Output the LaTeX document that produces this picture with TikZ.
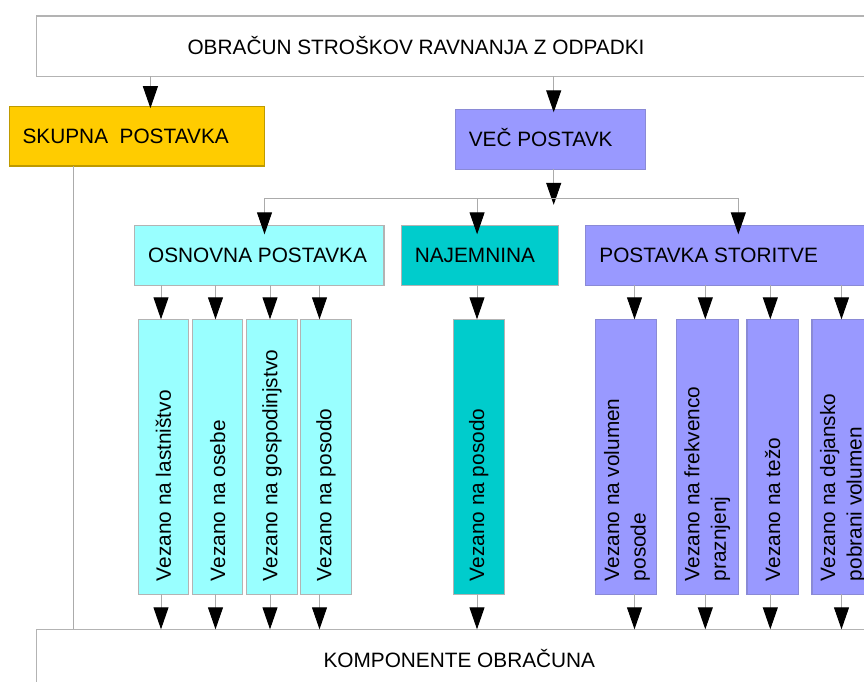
\documentclass[tikz,border=0pt]{standalone}
\usepackage{fontspec}
\setmainfont{Liberation Sans}
\usetikzlibrary{arrows.meta,calc}

\definecolor{goldfill}{HTML}{FFCC00}
\definecolor{golddraw}{HTML}{BE9A00}
\definecolor{violetfill}{HTML}{9999FF}
\definecolor{violetdraw}{HTML}{8A8AD6}
\definecolor{aquafill}{HTML}{99FFFF}
\definecolor{tealfill}{HTML}{00CCCC}
\definecolor{framegray}{HTML}{B3B3B3}
\definecolor{linkgray}{HTML}{ABABAB}

\begin{document}
\begin{tikzpicture}[x=1pt,y=-1pt,
  font=\fontsize{20.8}{26.5}\selectfont,
  box/.style={draw=framegray, line width=1.1pt, inner sep=0pt, outer sep=0pt, anchor=north west},
  hlabel/.style={anchor=base west, inner sep=0pt},
  vlabel/.style={rotate=90, anchor=west, inner sep=0pt, align=left},
  link/.style={draw=linkgray, line width=1pt},
  arr/.style={link, -{Triangle[width=15pt,length=22pt,black]}}]

\useasboundingbox (0,0) rectangle (864,682);
\clip (0,0) rectangle (864,682);
\fill[white] (0,0) rectangle (864,682);

% top and bottom frames
\node[box, minimum width=900pt, minimum height=60.3pt] (top) at (36.4,16) {};
\node[anchor=base, inner sep=0pt] (title) at (416,55) {OBRAČUN STROŠKOV RAVNANJA Z ODPADKI};
\node[box, minimum width=900pt, minimum height=100pt] (bot) at (36.4,629.3) {};
\node[anchor=base, inner sep=0pt] (botlbl) at (459.3,667.3) {KOMPONENTE OBRAČUNA};

% first level
\node[box, fill=goldfill, draw=golddraw, minimum width=255.1pt, minimum height=59.3pt] (sk) at (9.4,106.7) {};
\node[hlabel] (sklbl) at ($(sk.west)+(13,7.4)$) {SKUPNA\ \ POSTAVKA};
\node[box, fill=violetfill, draw=violetdraw, minimum width=189.6pt, minimum height=60pt] (vec) at (455.6,109.3) {};
\node[hlabel] (veclbl) at ($(vec.west)+(13,7.4)$) {VEČ POSTAVK};

% second level
\node[box, fill=aquafill, minimum width=249.6pt, minimum height=60pt] (osn) at (134.4,225.3) {};
\node[hlabel] (osnlbl) at ($(osn.west)+(13.5,7.4)$) {OSNOVNA POSTAVKA};
\node[box, fill=tealfill, minimum width=157pt, minimum height=60pt] (naj) at (401.1,225.3) {};
\node[hlabel] (najlbl) at ($(naj.west)+(13.5,7.4)$) {NAJEMNINA};
\node[box, fill=violetfill, draw=violetdraw, minimum width=300pt, minimum height=60pt] (ps) at (585.7,225.3) {};
\node[hlabel] (pslbl) at ($(ps.west)+(13.5,7.4)$) {POSTAVKA STORITVE};

% third level columns
\node[box, fill=aquafill, minimum width=50pt, minimum height=275pt] (c1) at (138.3,319.3) {};
\node[box, fill=aquafill, minimum width=50pt, minimum height=275pt] (c2) at (192.7,319.3) {};
\node[box, fill=aquafill, minimum width=50.6pt, minimum height=275pt] (c3) at (246.7,319.3) {};
\node[box, fill=aquafill, minimum width=50.6pt, minimum height=275pt] (c4) at (300.7,319.3) {};
\node[box, fill=tealfill, minimum width=51pt, minimum height=275pt] (n1) at (453.3,319.3) {};
\node[box, fill=violetfill, draw=violetdraw, minimum width=61.4pt, minimum height=275pt] (p1) at (595.3,319.3) {};
\node[box, fill=violetfill, draw=violetdraw, minimum width=62pt, minimum height=275pt] (p2) at (676.3,319.3) {};
\node[box, fill=violetfill, draw=violetdraw, minimum width=51.3pt, minimum height=275pt] (p3) at (747,319.3) {};
\node[box, fill=violetfill, draw=violetdraw, minimum width=62pt, minimum height=275pt] (p4) at (812,319.3) {};

\node[vlabel] (c1lbl) at ($(c1.south)+(0,-13)$) {Vezano na lastništvo};
\node[vlabel] (c2lbl) at ($(c2.south)+(0,-13)$) {Vezano na osebe};
\node[vlabel] (c3lbl) at ($(c3.south)+(0,-13)$) {Vezano na gospodinjstvo};
\node[vlabel] (c4lbl) at ($(c4.south)+(0,-13)$) {Vezano na posodo};
\node[vlabel] (n1lbl) at ($(n1.south)+(0,-13)$) {Vezano na posodo};
\node[vlabel] (p1lbl) at ($(p1.south)+(1,-13)$) {Vezano na volumen\\posode};
\node[vlabel] (p2lbl) at ($(p2.south)+(0,-13)$) {Vezano na frekvenco\\praznjenj};
\node[vlabel] (p3lbl) at ($(p3.south)+(0,-13)$) {Vezano na težo};
\node[vlabel] (p4lbl) at ($(p4.south)+(0,-13)$) {Vezano na dejansko\\pobrani volumen};

% connector columns
\coordinate (xsk) at (73.8,0);
\coordinate (xa) at (150.4,0);
\coordinate (xb) at (553.7,0);
\coordinate (xo) at (264.5,0);
\coordinate (xn) at (477.1,0);
\coordinate (xp) at (738.3,0);
\coordinate (jn) at (553.7,198.3);

% connectors
\draw[arr] (top.south -| xa) -- ($(sk.north -| xa)+(0,1.5)$);
\draw[arr] (top.south -| xb) -- ($(vec.north -| xb)+(0,3)$);
\draw[link] (sk.south -| xsk) -- (bot.north -| xsk);
\draw[arr] (vec.south -| xb) -- ($(jn)+(0,6.5)$);
\draw[link] (jn -| xo) -- (jn -| xp);
\draw[arr] (jn -| xo) -- ($(osn.north -| xo)+(0,9)$);
\draw[arr] (jn -| xn) -- ($(naj.north -| xn)+(0,9)$);
\draw[arr] (jn -| xp) -- ($(ps.north -| xp)+(0,9)$);

\foreach \col/\parent/\xx in {c1/osn/161, c2/osn/215.5, c3/osn/270, c4/osn/319.5,
                              n1/naj/477, p1/ps/634.5, p2/ps/705.3, p3/ps/770.3, p4/ps/841.5} {
  \coordinate (ax) at (\xx,0);
  \draw[arr] (\parent.south -| ax) -- (\col.north -| ax);
  \draw[arr] (\col.south -| ax) -- (bot.north -| ax);
}
\end{tikzpicture}
\end{document}
